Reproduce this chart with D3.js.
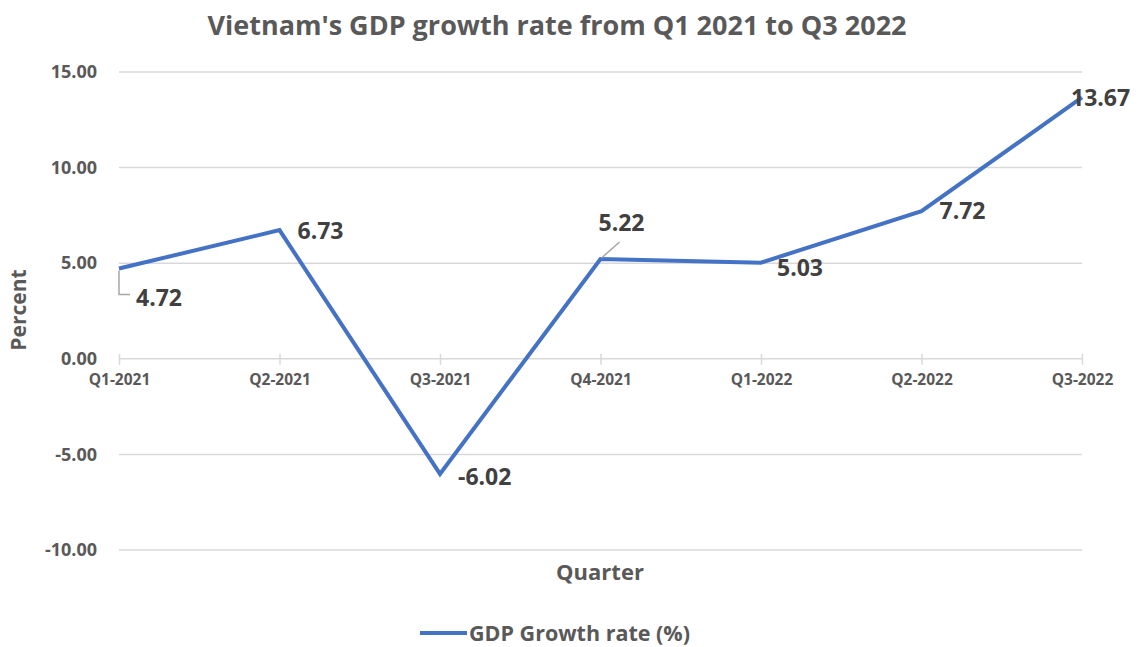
<!DOCTYPE html>
<html>
<head>
<meta charset="utf-8">
<script src="https://cdn.jsdelivr.net/npm/d3@7/dist/d3.min.js"></script>
<style>
  html, body { margin: 0; padding: 0; background: #fff; }
  svg { display: block; font-family: "Open Sans", "Noto Sans", sans-serif; }
</style>
</head>
<body>
<svg id="chart" width="1140" height="647"></svg>
<script>
const quarters = ["Q1-2021", "Q2-2021", "Q3-2021", "Q4-2021", "Q1-2022", "Q2-2022", "Q3-2022"];
const growth = [4.72, 6.73, -6.02, 5.22, 5.03, 7.72, 13.67];
const yTicks = [-10, -5, 0, 5, 10, 15];
const seriesName = "GDP Growth rate (%)";
const titleText = "Vietnam's GDP growth rate from Q1 2021 to Q3 2022";

const fmt = v => d3.format(".2f")(v).replace("\u2212", "-");

const svg = d3.select("#chart");
const W = 1140, H = 647;
svg.append("rect").attr("width", W).attr("height", H).attr("fill", "#fff");

const x = d3.scalePoint().domain(quarters).range([119, 1082]);
const y = d3.scaleLinear().domain([-10, 15]).range([550, 72]);

const gridColor = "#d9d9d9";
const textColor = "#595959";
const lineColor = "#4472c4";

// gridlines
svg.append("g").selectAll("line").data(yTicks.filter(d => d !== 0)).join("line")
  .attr("x1", 119).attr("x2", 1082)
  .attr("y1", d => y(d)).attr("y2", d => y(d))
  .attr("stroke", gridColor).attr("stroke-width", 1.5);

// y axis labels
const yAxis = d3.axisLeft(y).tickValues(yTicks).tickFormat(fmt).tickSize(0).tickPadding(0);
const gy = svg.append("g").attr("transform", "translate(97,0)").call(yAxis);
gy.select(".domain").remove();
gy.selectAll("text").attr("fill", textColor).attr("font-size", 18).attr("font-weight", 700)
  .attr("font-family", "'Open Sans', sans-serif");

// x axis at zero
const xAxis = d3.axisBottom(x).tickSizeInner(5).tickSizeOuter(0).tickPadding(10);
const gx = svg.append("g").attr("transform", `translate(0,${y(0)})`).call(xAxis);
gx.select(".domain").attr("stroke", gridColor).attr("stroke-width", 1.5).attr("d", `M119,0H1082`);
gx.selectAll(".tick line").attr("stroke", gridColor).attr("stroke-width", 1.5).attr("y1", -5).attr("y2", 6);
gx.selectAll("text").attr("fill", textColor).attr("font-size", 15.5).attr("font-weight", 700)
  .attr("font-family", "'Open Sans', sans-serif").attr("dy", "0.71em");

// line
const line = d3.line().x((d, i) => x(quarters[i])).y(d => y(d));
svg.append("path").datum(growth).attr("d", line)
  .attr("fill", "none").attr("stroke", lineColor).attr("stroke-width", 4)
  .attr("stroke-linejoin", "miter").attr("stroke-linecap", "butt");

// data labels (offsets relative to point)
const labelOffsets = [
  [17, 29, "start"],
  [18, 1, "start"],
  [18, 3, "start"],
  [21, -36, "middle"],
  [16, 5, "start"],
  [18, 0, "start"],
  [-11, 0, "start"]
];
const labels = svg.append("g");
growth.forEach((v, i) => {
  const px = x(quarters[i]), py = y(v);
  const [dx, dy, anchor] = labelOffsets[i];
  labels.append("text")
    .attr("x", px + dx).attr("y", py + dy)
    .attr("dy", "0.36em")
    .attr("text-anchor", anchor)
    .attr("fill", "#404040").attr("font-size", 23).attr("font-weight", 700)
    .text(fmt(v));
});
// leader lines
const p0x = x(quarters[0]), p0y = y(growth[0]);
labels.append("path").attr("d", `M${p0x},${p0y + 2}V${p0y + 26}H${p0x + 11}`)
  .attr("fill", "none").attr("stroke", "#a6a6a6").attr("stroke-width", 1.5);
const p3x = x(quarters[3]), p3y = y(growth[3]);
labels.append("path").attr("d", `M${p3x + 1},${p3y - 1}L${p3x + 19},${p3y - 17}`)
  .attr("fill", "none").attr("stroke", "#a6a6a6").attr("stroke-width", 1.5);

// title
svg.append("text").attr("x", 557).attr("y", 35).attr("text-anchor", "middle")
  .attr("fill", textColor).attr("font-size", 27).attr("font-weight", 700)
  .text(titleText);

// axis titles
svg.append("text").attr("x", 600).attr("y", 580).attr("text-anchor", "middle")
  .attr("fill", textColor).attr("font-size", 22).attr("font-weight", 700).text("Quarter");
svg.append("text").attr("transform", "translate(26,310) rotate(-90)").attr("text-anchor", "middle")
  .attr("fill", textColor).attr("font-size", 21).attr("font-weight", 700).text("Percent");

// legend
svg.append("line").attr("x1", 420).attr("x2", 467).attr("y1", 633).attr("y2", 633)
  .attr("stroke", lineColor).attr("stroke-width", 4);
svg.append("text").attr("x", 469).attr("y", 633).attr("dy", "0.36em")
  .attr("fill", textColor).attr("font-size", 21.5).attr("font-weight", 700).text(seriesName);
</script>
</body>
</html>
